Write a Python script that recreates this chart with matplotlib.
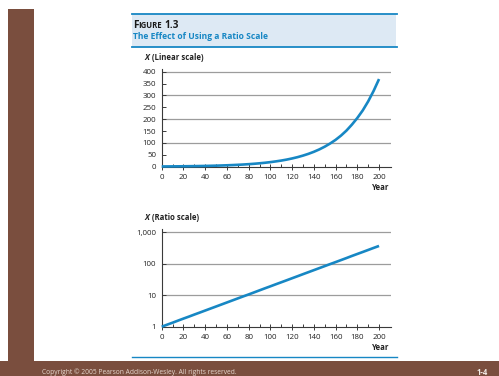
import matplotlib
matplotlib.use('Agg')
import matplotlib.pyplot as plt
from matplotlib.patches import Rectangle
from matplotlib.lines import Line2D
from matplotlib.ticker import FixedLocator, NullLocator

# ---- data ----
years = [0, 5, 10, 15, 20, 25, 30, 35, 40, 45, 50, 55, 60, 65, 70, 75, 80,
         85, 90, 95, 100, 105, 110, 115, 120, 125, 130, 135, 140, 145, 150,
         155, 160, 165, 170, 175, 180, 185, 190, 195, 200]
x_values = [1.0, 1.16, 1.34, 1.56, 1.81, 2.09, 2.43, 2.81, 3.26, 3.78, 4.38,
            5.08, 5.89, 6.83, 7.92, 9.18, 10.6, 12.3, 14.3, 16.6, 19.2, 22.3,
            25.8, 29.9, 34.7, 40.2, 46.7, 54.1, 62.7, 72.7, 84.3, 97.7, 113,
            131, 152, 177, 205, 237, 275, 319, 369]
year_ticks = [0, 20, 40, 60, 80, 100, 120, 140, 160, 180, 200]
year_minor = [10, 30, 50, 70, 90, 110, 130, 150, 170, 190]
linear_ticks = [0, 50, 100, 150, 200, 250, 300, 350, 400]
linear_grid = [100, 200, 300, 400]
ratio_ticks = [1, 10, 100, 1000]
ratio_labels = ['1', '10', '100', '1,000']
ratio_grid = [10, 100, 1000]

plt.rcParams['font.family'] = ['Open Sans', 'DejaVu Sans']

W, H = 499, 376
fig = plt.figure(figsize=(W / 100, H / 100), dpi=100)
fig.patch.set_facecolor('white')


def fx(x):
    return x / W


def fy(y):
    return 1 - y / H


BROWN = '#7a4e3e'
BLUE = '#1787c4'
HEADER_BG = '#dde9f4'
GRID = '#9c9c9c'
SPINE = '#3a3a3a'
TXT = '#222222'

# brown frame
fig.patches.append(Rectangle((fx(8), 0), fx(34) - fx(8), fy(9), transform=fig.transFigure,
                             facecolor=BROWN, edgecolor='none', zorder=0))
fig.patches.append(Rectangle((0, 0), 1, fy(361), transform=fig.transFigure,
                             facecolor=BROWN, edgecolor='none', zorder=0))

# header box
fig.patches.append(Rectangle((fx(132), fy(47)), fx(396.5) - fx(132), fy(14) - fy(47),
                             transform=fig.transFigure, facecolor=HEADER_BG,
                             edgecolor='none', zorder=0))
fig.lines.append(Line2D([fx(132), fx(396.5)], [fy(14), fy(14)], transform=fig.transFigure,
                        color=BLUE, lw=1.3))
fig.lines.append(Line2D([fx(132), fx(396.5)], [fy(47), fy(47)], transform=fig.transFigure,
                        color=BLUE, lw=1.3))
fig.lines.append(Line2D([fx(132), fx(396.5)], [fy(356.7), fy(356.7)], transform=fig.transFigure,
                        color=BLUE, lw=1.0))

fig.text(fx(133), fy(27.6), 'F', fontsize=7.2, fontweight='bold', color='#1a1a1a',
         ha='left', va='baseline')
fig.text(fx(138.5), fy(27.6), 'IGURE', fontsize=5.6, fontweight='bold', color='#1a1a1a',
         ha='left', va='baseline')
fig.text(fx(164.3), fy(27.6), '1.3', fontsize=7.2, fontweight='bold', color='#1a1a1a',
         ha='left', va='baseline')
fig.text(fx(133), fy(39.2), 'The Effect of Using a Ratio Scale', fontsize=6.1,
         fontweight='bold', color=BLUE, ha='left', va='baseline')

# footer
fig.text(fx(42), fy(372.5), 'Copyright \u00a9 2005 Pearson Addison-Wesley. All rights reserved.',
         fontsize=4.8, color='#e6d8cf', ha='left', va='center')
fig.text(fx(487.5), fy(372.5), '1-4', fontsize=5.6, fontweight='bold', color='#f2ebe6',
         ha='right', va='center')


def style_axes(ax):
    for s in ['top', 'right']:
        ax.spines[s].set_visible(False)
    for s in ['left', 'bottom']:
        ax.spines[s].set_color(SPINE)
        ax.spines[s].set_linewidth(0.8)
    ax.set_facecolor('none')
    ax.xaxis.set_major_locator(FixedLocator(year_ticks))
    ax.xaxis.set_minor_locator(FixedLocator(year_minor))
    ax.tick_params(axis='x', which='major', direction='inout', length=4, width=0.7,
                   color=SPINE, labelsize=5.7, labelcolor=TXT, pad=3)
    ax.tick_params(axis='x', which='minor', direction='in', length=2.2, width=0.7,
                   color=SPINE)
    ax.tick_params(axis='y', which='major', direction='in', length=3, width=0.7,
                   color=SPINE, labelsize=5.7, labelcolor=TXT, pad=4)
    ax.tick_params(axis='y', which='minor', length=0)
    ax.set_xlim(0, 211)


# top (linear) axes
ax1 = fig.add_axes([fx(161.7), fy(166.7), fx(391) - fx(161.7), (166.7 - 69.3) / H])
style_axes(ax1)
ax1.set_ylim(0, 410)
ax1.yaxis.set_major_locator(FixedLocator(linear_ticks))
for g in linear_grid:
    ax1.axhline(g, color=GRID, lw=0.9, zorder=1)
ax1.plot(years, x_values, color=BLUE, lw=1.9, zorder=3, solid_capstyle='butt', clip_on=False)

# bottom (ratio) axes
ax2 = fig.add_axes([fx(161.7), fy(326.7), fx(391) - fx(161.7), (326.7 - 229) / H])
style_axes(ax2)
ax2.set_yscale('log')
ax2.set_ylim(1, 1274)
ax2.yaxis.set_major_locator(FixedLocator(ratio_ticks))
ax2.yaxis.set_minor_locator(NullLocator())
ax2.set_yticklabels(ratio_labels)
for g in ratio_grid:
    ax2.axhline(g, color=GRID, lw=0.9, zorder=1)
ax2.plot(years, x_values, color=BLUE, lw=1.9, zorder=3, solid_capstyle='butt', clip_on=False)

# axis titles
for ytxt, label in [(57.3, '(Linear scale)'), (217.3, '(Ratio scale)')]:
    fig.text(fx(144), fy(ytxt), 'X', fontsize=5.8, fontstyle='italic', fontweight='bold',
             color=TXT, ha='left', va='center')
    fig.text(fx(151.8), fy(ytxt), label, fontsize=5.6, fontweight='bold',
             color=TXT, ha='left', va='center')

for ytxt in [187, 347.7]:
    fig.text(fx(389.5), fy(ytxt), 'Year', fontsize=5.6, fontweight='bold', color=TXT,
             ha='right', va='center')

fig.savefig('out.png', dpi=100)
